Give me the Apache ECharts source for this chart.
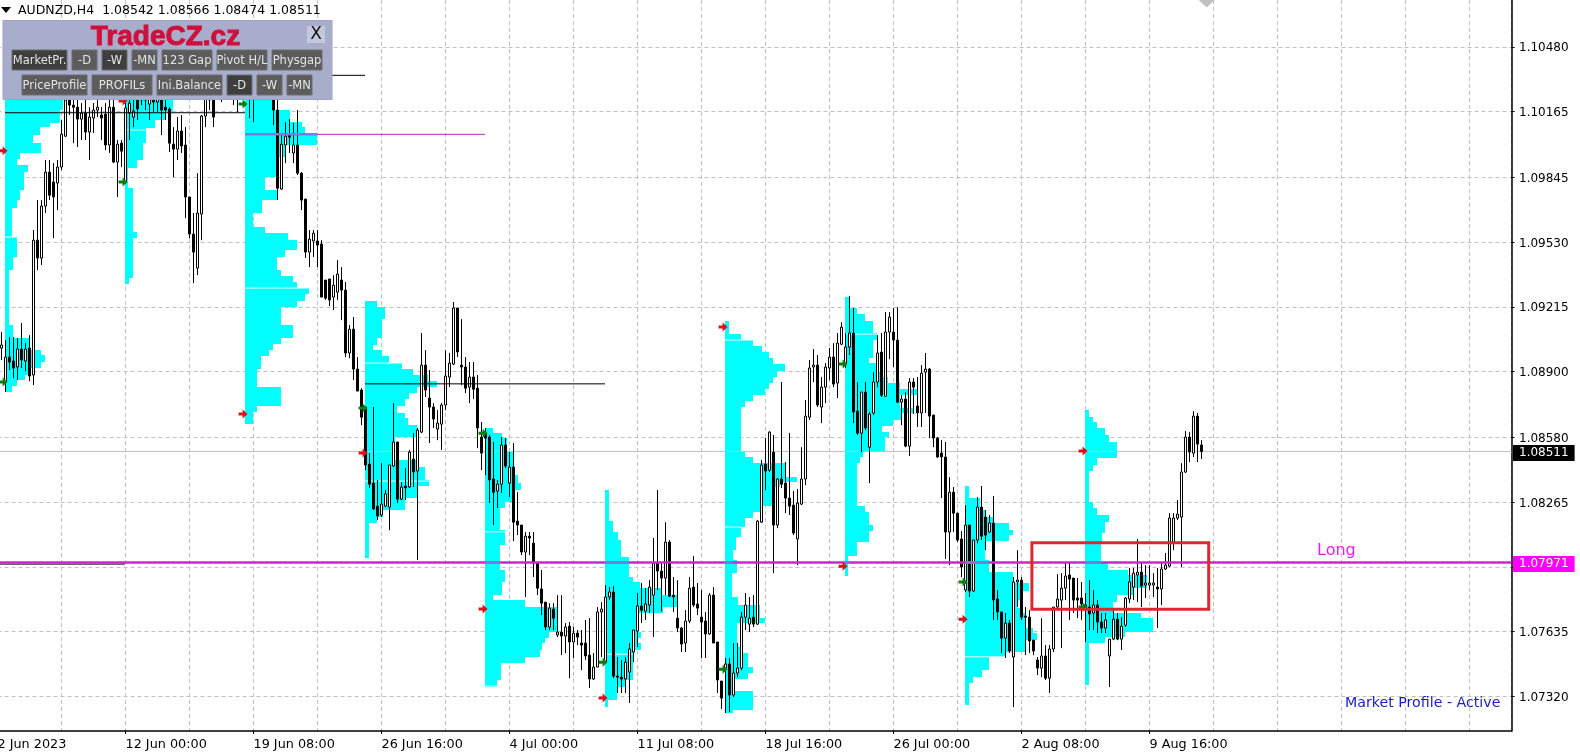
<!DOCTYPE html>
<html><head><meta charset="utf-8"><title>AUDNZD H4</title>
<style>html,body{margin:0;padding:0;background:#fff}#c{width:1580px;height:756px}</style>
<script src="https://cdn.jsdelivr.net/npm/echarts@6/dist/echarts.min.js"></script></head>
<body><div id="c"></div><script>
const opens=[109014,108849,108970,108951,108922,109009,108951,109014,108883,109539,
109452,109705,109870,109822,109817,109895,110045,110245,110196,110186,
110128,110157,110065,110133,110172,110148,110152,110002,110186,109919,
110011,109822,110157,110138,110221,110221,110259,110201,110245,110211,
110245,110186,110177,110006,109982,110070,110002,109749,109569,109403,
109666,110143,110221,110245,110245,110318,110259,110342,110279,110245,
110279,110318,110269,110308,110293,110259,110318,110259,110245,110172,
109788,110002,110050,109963,110002,109865,109739,109481,109535,109535,
109520,109345,109350,109262,109286,109345,109296,108990,109106,108912,
108810,108727,108450,108357,108245,108202,108245,108240,108440,108557,
108279,108343,108338,108474,108416,108605,108931,108771,108727,108620,
108644,108737,108873,108936,109209,108931,108922,108824,108873,108819,
108581,108600,108581,108377,108318,108352,108542,108357,108435,108172,
108153,108022,108099,108065,107968,107842,107778,107657,107744,107618,
107632,107613,107661,107584,107627,107579,107579,107520,107404,107462,
107730,107486,107803,107827,107418,107413,107404,107438,107535,107637,
107759,107734,107764,107812,107968,107929,107895,108070,107812,107700,
107652,107579,107686,107851,107769,107705,107686,107623,107812,107584,
107394,107457,107477,107326,107433,107457,107705,107671,107705,107671,
108167,108450,108420,108508,108153,108377,108357,108284,108250,108085,
108255,108377,108678,108922,108931,108727,108824,108917,108970,108844,
109033,108936,109019,109087,108707,108600,108800,108532,108698,108849,
108995,108780,109092,109092,109053,108751,108766,108537,108849,108732,
108698,108897,108912,108688,108576,108503,108484,108119,108313,108211,
108085,107837,108153,107832,108080,108240,108192,108119,108163,107793,
107730,107603,107676,107511,107876,107885,107710,107705,107593,107496,
107457,107516,107408,107550,107754,107788,107846,107910,107895,107798,
107798,107764,107754,107725,107764,107681,107652,107516,107598,107695,
107598,107666,107793,107851,107910,107924,107861,107861,107861,107851,
107842,107939,107953,108070,108187,108192,108411,108581,108503,108683,
108542];
const closes=[109029,108970,108946,108917,109009,108956,109009,108878,109539,109452,
109705,109870,109758,109749,109895,110055,110221,110196,110186,110128,
110157,110065,110138,110172,110186,110133,110002,110186,109919,110006,
109972,110182,110206,110167,110177,110259,110221,110245,110211,110269,
110172,110172,110011,109982,110070,109997,109749,109569,109481,109671,
110143,110245,110269,110138,110318,110259,110342,110279,110245,110293,
110318,110269,110308,110259,110259,110318,110245,110230,110172,109792,
110006,110045,110040,110002,109865,109734,109481,109544,109573,109515,
109262,109257,109248,109320,109374,109296,108990,109106,108912,108805,
108678,108445,108352,108231,108197,108255,108304,108445,108557,108279,
108338,108333,108508,108411,108615,108931,108810,108727,108669,108649,
108737,108878,108941,109209,108995,108922,108819,108873,108814,108625,
108503,108576,108372,108313,108352,108542,108440,108435,108167,108153,
108022,108099,108090,107968,107846,107773,107657,107749,107700,107632,
107613,107657,107584,107627,107608,107569,107516,107404,107462,107730,
107744,107803,107827,107418,107413,107404,107486,107550,107642,107759,
107739,107769,107851,107968,107929,107895,108070,107807,107803,107652,
107574,107686,107846,107764,107749,107681,107623,107812,107579,107399,
107311,107477,107326,107433,107457,107705,107764,107700,107671,108172,
108445,108416,108605,108153,108377,108352,108284,108245,108114,108260,
108377,108683,108917,108931,108737,108824,108922,108970,108839,109038,
109116,109019,109087,108703,108600,108800,108625,108693,108849,108990,
108785,109092,109165,109053,108751,108766,108537,108849,108824,108698,
108892,108912,108683,108576,108484,108484,108119,108313,108211,108080,
107949,108153,107832,108080,108240,108099,108104,108163,107788,107730,
107603,107676,107540,107876,107885,107705,107705,107589,107540,107457,
107516,107408,107550,107754,107793,107846,107905,107890,107788,107788,
107769,107749,107720,107764,107681,107652,107691,107598,107695,107598,
107661,107798,107876,107919,107924,107856,107871,107871,107871,107842,
107939,107958,108187,108187,108206,108411,108581,108508,108683,108547,
108511];
const lows=[108956,108800,108907,108868,108858,108917,108902,108853,108834,109393,
109418,109671,109734,109549,109685,109880,110040,110148,110011,109992,
110026,110026,109929,110060,110138,110026,109977,109963,109914,109749,
109895,109812,110026,110089,110123,110196,110172,110123,110162,110162,
110050,110123,109968,109846,109929,109963,109646,109549,109330,109369,
109539,110089,110172,110089,110221,110211,110230,110240,110196,110162,
110221,110221,110133,110113,110230,110230,110230,110221,110099,109734,
109783,109914,109963,109914,109856,109685,109452,109408,109457,109408,
109262,109248,109218,109199,109248,109150,108970,108965,108858,108805,
108639,108420,108333,108226,108177,108192,108240,108128,108435,108260,
108275,108275,108333,108338,107983,108600,108776,108552,108625,108566,
108518,108712,108824,108931,108970,108834,108795,108746,108766,108527,
108420,108396,108260,108153,108236,108309,108430,108289,108075,108104,
108007,107803,108007,107900,107812,107715,107642,107642,107642,107608,
107520,107530,107408,107506,107569,107447,107496,107360,107399,107462,
107511,107481,107788,107408,107336,107336,107336,107287,107486,107559,
107676,107691,107725,107608,107837,107734,107812,107803,107730,107632,
107535,107535,107676,107754,107715,107506,107506,107618,107579,107336,
107258,107238,107243,107316,107413,107447,107642,107632,107657,107666,
108163,108323,108411,107919,108138,108333,108211,108202,108104,107958,
108250,108347,108664,108849,108727,108649,108746,108858,108824,108771,
109029,108917,108980,108649,108591,108508,108615,108357,108688,108824,
108776,108776,108960,108922,108746,108639,108532,108489,108693,108630,
108630,108698,108576,108532,108479,108284,107988,107958,108119,108070,
107900,107827,107803,107827,108065,108080,108031,108114,107691,107691,
107530,107506,107530,107267,107754,107691,107520,107530,107520,107423,
107413,107399,107336,107535,107739,107554,107788,107691,107725,107700,
107691,107584,107642,107642,107627,107627,107627,107365,107593,107593,
107545,107657,107773,107788,107778,107754,107798,107837,107803,107652,
107764,107934,107949,108031,108177,107949,108406,108459,108484,108459,
108474];
const highs=[109092,109053,109067,109067,109063,109136,109038,109077,109588,109734,
109734,109929,109929,109914,109929,110123,110245,110269,110230,110221,
110206,110221,110186,110206,110221,110186,110206,110221,110221,110026,
110026,110206,110230,110221,110245,110279,110293,110269,110279,110293,
110269,110221,110186,110089,110138,110148,110089,109749,109671,109865,
110148,110269,110293,110269,110366,110357,110391,110376,110318,110318,
110366,110357,110342,110337,110328,110357,110342,110293,110279,110221,
110060,110113,110128,110109,110172,109870,109739,109588,109588,109588,
109539,109345,109350,109369,109442,109408,109335,109126,109165,108970,
108819,108727,108503,108727,108372,108454,108323,108445,108746,108557,
108362,108430,108518,108600,108625,109087,109004,108907,108746,108712,
108746,109004,108990,109238,109209,109155,108970,108946,108946,108883,
108654,108625,108591,108557,108372,108581,108576,108508,108552,108313,
108153,108119,108119,108119,107973,107934,107778,107773,107773,107812,
107812,107676,107681,107657,107642,107642,107691,107700,107530,107754,
107778,107861,107851,107856,107511,107496,107511,107579,107642,107822,
107871,107846,107885,108090,108323,107968,108167,108080,107900,107885,
107657,107739,107900,108002,107871,107837,107730,107822,107851,107584,
107394,107506,107506,107579,107579,107730,107822,107803,107812,108177,
108469,108576,108610,108591,108382,108849,108459,108600,108318,108328,
108532,108761,108956,109009,108980,108873,108941,109014,109038,109087,
109140,109087,109267,109209,108849,108800,108849,108703,108897,109077,
109087,109189,109189,109209,109213,108785,108800,108868,108868,108873,
108931,108990,108917,108688,108581,108566,108557,108386,108338,108211,
108124,108250,108153,108080,108289,108343,108226,108202,108294,107837,
107730,107725,107691,107900,108031,107900,107754,107739,107593,107511,
107700,107569,107569,107754,107914,107919,107968,107968,107895,107895,
107876,107822,107885,107837,107788,107725,107725,107598,107739,107725,
107705,107803,107944,107944,108085,107968,107958,107958,107919,107944,
107968,108017,108211,108211,108275,108454,108610,108605,108707,108698,
108566];

// market profiles: [level top price, depth in bars], closed by [end price, 0]
const profile1=[[110221,14.5],[110172,13.75],[110109,11.25],[110089,8.75],[110050,7],[110011,9],[109963,3.75],[109933,3],[109904,5.75],[109870,4.75],[109783,3.75],[109734,3],[109695,1.75],[109554,3],[109457,2],[109393,1],[109126,2],[109063,6.25],[109004,9],[108980,10],[108946,9],[108917,6.25],[108883,5],[108858,3],[108829,1.75],[108800,0]];
const profile2=[[110221,12],[110162,10],[110123,7.5],[110084,5.25],[110011,4.5],[109929,3],[109890,0.75],[109792,2],[109578,3],[109549,2],[109355,1],[109325,0]];
const profile3=[[110221,7],[110172,11.25],[110113,14.25],[110089,15],[110060,18],[110002,10],[109943,8],[109846,5],[109783,8],[109734,4.25],[109671,2],[109603,5],[109573,10.75],[109539,13],[109491,10],[109457,8],[109393,9],[109364,12],[109335,13],[109306,16],[109277,15],[109243,13],[109213,9],[109126,12],[109063,9],[109033,7],[109004,6],[108975,4],[108912,3],[108824,9],[108732,3],[108703,2],[108644,0]];
const profile4=[[109243,3],[109213,5],[109155,4.25],[109063,3],[109029,2],[109004,4.25],[108975,6],[108941,9.25],[108912,12],[108883,15.75],[108853,18],[108824,13],[108795,11],[108766,10],[108732,8],[108698,10],[108673,10.75],[108639,13],[108581,7.5],[108469,13],[108435,15],[108372,16],[108343,13],[108284,10],[108226,4.5],[108192,3],[108163,1],[107992,0]];
const profile5=[[108625,2],[108600,4.25],[108576,5.5],[108508,7],[108396,8.25],[108357,9],[108323,7],[108265,5],[108236,3.75],[108128,5],[108056,3.75],[107934,5],[107876,4.25],[107812,2],[107788,10],[107754,18],[107632,16],[107603,15],[107579,14.25],[107545,13.75],[107511,10],[107481,4],[107399,3],[107365,0]];
const profile6=[[108323,1],[108172,2],[108119,3.25],[108080,4],[107997,6],[107900,7],[107876,8.75],[107846,14.25],[107812,18],[107754,14.5],[107725,8],[107632,9],[107603,8],[107579,9],[107545,7],[107399,5],[107365,3],[107302,0.75],[107267,0]];
const profile7=[[109145,1],[109082,4],[109053,7],[109024,9.25],[108995,11],[108965,12],[108936,15],[108902,13],[108873,12],[108844,11],[108814,10],[108785,7],[108756,5],[108727,4],[108508,5],[108484,7],[108454,15],[108386,18],[108362,13.75],[108338,11.75],[108245,9.25],[108216,7],[108187,5],[108143,4],[108095,2.75],[108031,2],[107983,3],[107919,1.75],[107803,3.25],[107764,8.75],[107700,10],[107676,3],[107559,3.75],[107530,5.75],[107462,7],[107433,5.75],[107404,2],[107345,7],[107253,2],[107238,0]];
const profile8=[[109262,1],[109209,3],[109180,5],[109145,7],[109087,8],[109053,7],[108965,6],[108941,8],[108897,9.25],[108873,10.75],[108844,13.75],[108814,18],[108785,13.75],[108722,17],[108698,14.25],[108664,12],[108634,9.25],[108605,11],[108581,10],[108508,4.5],[108484,3.75],[108454,3],[108245,5],[108216,6],[108153,7],[108124,6],[108070,3],[108002,0.75],[107905,0]];
const profile9=[[108343,1],[108284,3.75],[108226,5],[108192,7],[108163,11],[108128,12],[108104,11],[108075,5],[107983,6],[107924,12],[107871,16],[107832,14.5],[107788,13],[107749,14.25],[107725,15],[107652,17],[107627,18],[107593,15],[107535,10],[107511,6],[107447,4.25],[107413,2],[107384,1],[107277,0]];
const profile10=[[108712,1],[108678,2],[108654,3],[108625,5],[108591,6],[108557,8],[108479,3],[108445,2],[108416,1],[108265,2],[108236,3],[108202,6],[108167,5],[108114,4.25],[108065,4],[107968,5.75],[107934,10.75],[107910,15.5],[107846,12],[107812,8],[107778,7],[107725,14],[107700,17],[107632,10],[107608,5],[107579,1],[107374,0]];
const profileLefts=[1.875,31.875,61.875,91.875,121.875,151.875,181.875,211.875,241.875,271.875];
const profileLevels=[profile1,profile2,profile3,profile4,profile5,profile6,profile7,profile8,profile9,profile10];

// [from bar, to bar, price]
const blackLevels=[[1.875,61.875,110159],[31.875,91.875,110341],[91.875,151.875,108840],[0,31.875,107963]];
const violetLevels=[[61.875,121.875,110054]];
const whiteLevels=[[1.875,5,109554],[31.875,38.5,110075],[61.875,78,109306],[91.875,101,108941],[91.875,108,108367],[121.875,127,108120],[121.875,125,107370],[151.875,161,107525],[181.875,189,109053],[181.875,186,108143],[211.875,220,109082],[241.875,252,107512]];
const blueOverlap=[[121.875,125.6,107971],[151.875,157.9,107971],[181.875,183.9,107971],[211.875,213.1,107971],[241.875,247.9,107971],[271.875,275.9,107971],[61.875,79.9,110054]];
const redArrows=[[1.4,109974],[31.4,110216],[61.4,108693],[91.4,108503],[121.4,107744],[151.4,107311],[181.4,109116],[211.4,107953],[241.4,107695],[271.4,108513]];
const greenArrows=[[1.4,108849],[31.4,109822],[61.4,110201],[91.4,108722],[121.4,108600],[151.4,107486],[181.4,107452],[211.4,108936],[241.4,107876],[271.4,107754]];

const currentPrice=108511, longPrice=107971;
const rectBars=[258.6,302.8], rectPrices=[108067,107743];
const xTicks=[0,32,64,96,128,160,192,224,256,288];
const xLabels=['2 Jun 2023','12 Jun 00:00','19 Jun 08:00','26 Jun 16:00','4 Jul 00:00','11 Jul 08:00','18 Jul 16:00','26 Jul 00:00','2 Aug 08:00','9 Aug 16:00'];
const yTickLabels=['1.10480','1.10165','1.09845','1.09530','1.09215','1.08900','1.08580','1.08265','1.07950','1.07635','1.07320'];
const X_MAX=378.5, Y_MIN=1.07151, Y_MAX=1.107075;
const FONT='"DejaVu Sans"';

const px=v=>v/1e5;
const candleData=opens.map((o,i)=>[i+1,px(o),px(closes[i]),px(lows[i]),px(highs[i])]);
const profileRows=[];
profileLevels.forEach((levels,k)=>{
  for(let j=0;j<levels.length-1;j++){
    profileRows.push([profileLefts[k],px(levels[j][0]),px(levels[j+1][0]),levels[j][1]]);
  }
});
function segs(list){const out=[];list.forEach(s=>{out.push([s[0],px(s[2])],[s[1],px(s[2])],[null,null]);});return out;}
function lineS(name,list,color,width,z){
  return {name,type:'line',data:segs(list),showSymbol:false,symbol:'none',silent:true,z,connectNulls:false,
    lineStyle:{color,width},animation:false};
}
const tagMap={'1.08511':'tagK','1.07971':'tagM'};
const yLabelVals=yTickLabels.filter(s=>s!=='1.07950').map(Number).concat([px(currentPrice),px(longPrice)]);

// control panel (page furniture)
const g=[];
function rect(x,y,w,h,fill,stroke){g.push({type:'rect',z:100,silent:true,shape:{x,y,width:w,height:h},style:{fill,stroke:stroke||null,lineWidth:stroke?1:0}});}
function text(x,y,t,o){g.push({type:'text',z:101,silent:true,x,y,style:Object.assign({text:t,fontFamily:FONT,fontSize:12,fill:'#000',textVerticalAlign:'middle',verticalAlign:'middle'},o||{})});}
const btnRows=[
 [[12,55,'MarketPr.',1],[72,25,'-D',0],[102,25,'-W',1],[132,25,'-MN',0],[162,50,'123 Gap',0],[217,50,'Pivot H/L',0],[272,50,'Physgap',0]],
 [[22,65,'PriceProfile',0],[92,60,'PROFILs',0],[157,65,'Ini.Balance',0],[227,25,'-D',1],[257,25,'-W',0],[287,25,'-MN',0]]];
rect(3,20.5,329,79,'#a8adcb','#9da2c4');
btnRows.forEach((row,r)=>{const y=r?75:50;row.forEach(b=>{
  rect(b[0],y,b[1],20,b[3]?'#3f3f3f':'#5c5c5c','#6e6e6e');
  text(b[0]+b[1]/2,y+11,b[2],{fill:'#e4e4e4',textAlign:'center',align:'center',fontSize:11.5});
});});
rect(307,26,18,17,'#c4c8dc');
text(316,35,'X',{fontSize:17,textAlign:'center',align:'center',fill:'#111'});
text(165.5,37,'TradeCZ.cz',{fontFamily:'"Liberation Sans"',fontWeight:'bold',fontSize:28,fill:'#d0103c',stroke:'#d0103c',lineWidth:1,textAlign:'center',align:'center'});
text(18,11,'AUDNZD,H4  1.08542 1.08566 1.08474 1.08511',{fontSize:12.5});
g.push({type:'polygon',z:101,silent:true,shape:{points:[[1,7],[11,7],[6,13]]},style:{fill:'#000'}});
text(1317,551,'Long',{fontSize:16,fill:'#f018f0'});
text(1345,703,'Market Profile - Active',{fontSize:14.2,fill:'#1a1ac8'});

const chart=echarts.init(document.getElementById('c'),null,{renderer:'canvas'});
chart.setOption({
 animation:false,backgroundColor:'#fff',
 graphic:{elements:g},
 grid:{left:-2.5,top:0,width:1514,height:731,containLabel:false,outerBoundsMode:'none'},
 xAxis:[
  {type:'value',min:0,max:X_MAX,interval:16,position:'bottom',
   axisLine:{show:true,onZero:false,lineStyle:{color:'#000',width:1.5}},axisTick:{show:false},axisLabel:{show:false},
   splitLine:{show:true,lineStyle:{color:'#c0c0c0',type:[4,3],width:1}}},
  {type:'value',min:0,max:X_MAX,position:'bottom',
   axisLine:{show:false,onZero:false},splitLine:{show:false},
   axisTick:{show:true,length:3,customValues:xTicks,lineStyle:{color:'#000'}},
   axisLabel:{show:true,customValues:xTicks,align:'left',margin:7,color:'#000',fontFamily:FONT,fontSize:12.8,showMinLabel:true,showMaxLabel:true,hideOverlap:false,
     formatter:v=>xLabels[xTicks.indexOf(v)]||''}}
 ],
 yAxis:[{type:'value',min:Y_MIN,max:Y_MAX,position:'right',scale:true,
   axisLine:{show:true,onZero:false,lineStyle:{color:'#000',width:1.5}},
   axisTick:{show:true,length:3,customValues:yTickLabels.map(Number),lineStyle:{color:'#000'}},
   splitLine:{show:true,lineStyle:{color:'#c0c0c0',type:[4,3],width:1}},
   axisLabel:{show:true,customValues:yLabelVals,margin:1.5,hideOverlap:false,fontFamily:FONT,fontSize:12,color:'#000',padding:[3,0,0,0],
     formatter:v=>{const s=v.toFixed(5);return tagMap[s]?'{'+tagMap[s]+'|'+s+'}':'{n|'+s+'}';},
     rich:{n:{fontFamily:FONT,fontSize:12,color:'#000',padding:[0,6,0,6]},
       tagK:{fontFamily:FONT,fontSize:12,color:'#fff',backgroundColor:'#000',lineHeight:13,padding:[2,6,2,6]},
       tagM:{fontFamily:FONT,fontSize:12,color:'#fff',backgroundColor:'#ff00ff',lineHeight:13,padding:[2,6,2,6]}}}
 }],
 series:[
  {name:'Profile',type:'custom',z:1,silent:true,data:profileRows,encode:{x:0,y:1},
   renderItem:(p,api)=>{
     const a=api.coord([api.value(0),api.value(1)]),b=api.coord([api.value(0)+api.value(3),api.value(2)]);
     const x=Math.round(a[0]),y=Math.round(a[1]);
     return {type:'rect',shape:{x,y,width:Math.round(b[0])-x,height:Math.round(b[1])-y},style:{fill:'#00ffff'}};
   }},
  lineS('White levels',whiteLevels,'#e6ffff',1,2),
  lineS('Current',[[0,X_MAX,currentPrice]],'#c0c0c0',1,2),
  {name:'AUDNZD',type:'candlestick',z:3,silent:true,barWidth:2,data:candleData,encode:{x:0,y:[1,2,3,4]},
   itemStyle:{color:'#fff',color0:'#000',borderColor:'#000',borderColor0:'#000',borderWidth:1,borderColorDoji:'#000'},
   markArea:{silent:true,z:6,itemStyle:{color:'rgba(0,0,0,0)',borderColor:'#dc2830',borderWidth:3},
     data:[[{coord:[rectBars[0],px(rectPrices[0])]},{coord:[rectBars[1],px(rectPrices[1])]}]]}},
  lineS('Levels',blackLevels,'#000',1,4),
  lineS('Violet',violetLevels,'#c020c0',1,4),
  lineS('Long',[[0,X_MAX,longPrice]],'#c828c8',2.5,4),
  lineS('Overlap',blueOverlap,'#7c7ce0',2.5,4),
  {name:'Down',type:'scatter',z:5,silent:true,data:redArrows.map(a=>[a[0],px(a[1])]),symbol:'path://M0 3H4V0L9 4.5L4 9V6H0Z',symbolSize:9,itemStyle:{color:'#e0101a',opacity:1}},
  {name:'Up',type:'scatter',z:5,silent:true,data:greenArrows.map(a=>[a[0],px(a[1])]),symbol:'path://M0 3H4V0L9 4.5L4 9V6H0Z',symbolSize:9,itemStyle:{color:'#0c7a12',opacity:1}},
  {name:'Marker',type:'scatter',z:5,silent:true,clip:false,data:[[302.3,Y_MAX]],symbol:'diamond',symbolSize:[16,15],itemStyle:{color:'#c0c0c0',opacity:1}}
 ]
});
</script></body></html>
